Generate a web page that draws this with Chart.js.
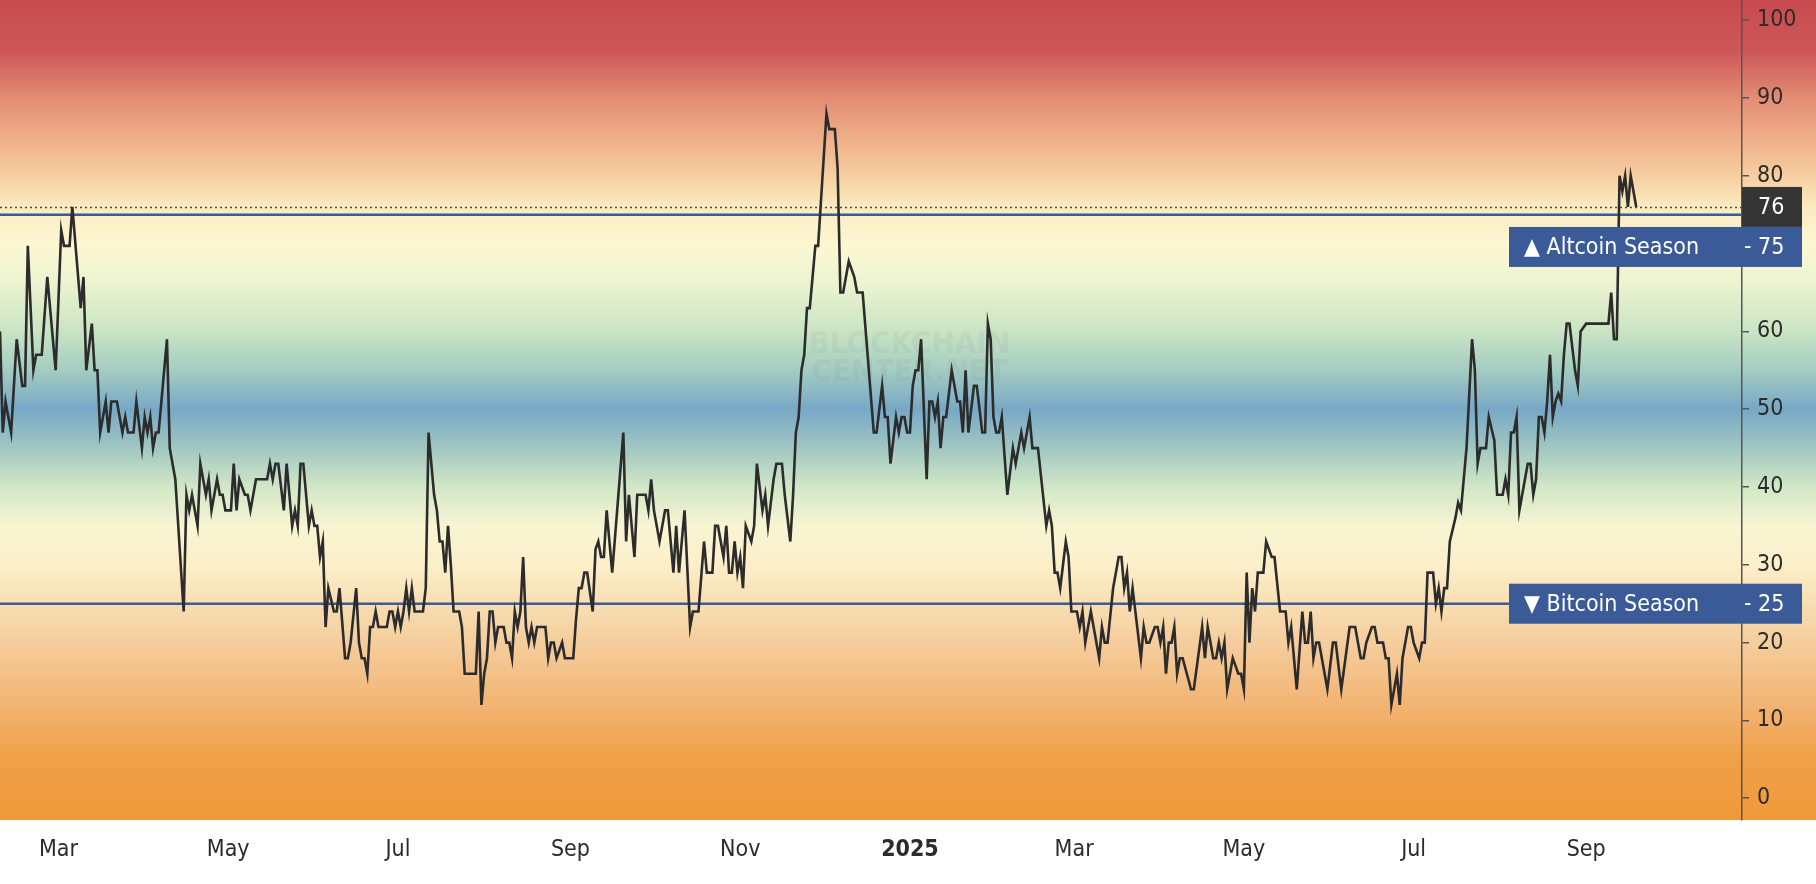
<!DOCTYPE html>
<html>
<head>
<meta charset="utf-8">
<title>Altcoin Season Index</title>
<script src="https://cdn.jsdelivr.net/npm/chart.js@4.4.1/dist/chart.umd.min.js"></script>
<style>
  html, body { margin: 0; padding: 0; background: #fff; }
  #wrap { width: 1816px; height: 884px; position: relative; }
</style>
</head>
<body>
<div id="wrap"><canvas id="chart"></canvas></div>
<script>
// day 0 = 1 Mar 2024, one reading per day (index value 0-100)
const START_DATE = '2024-03-01';

const dayIndex = [
  -21, -20, -19, -18, -17, -15, -13, -12, -11, -9, -8, -6, -4, -1, 1, 2, 4, 5, 8, 9,
  10, 12, 13, 14, 15, 17, 18, 19, 21, 23, 24, 25, 27, 28, 30, 31, 32, 33, 34, 35,
  36, 39, 40, 42, 45, 46, 47, 48, 50, 51, 53, 54, 55, 57, 58, 59, 60, 62, 63, 64,
  65, 67, 68, 69, 71, 75, 76, 77, 78, 79, 81, 82, 84, 85, 86, 87, 88, 90, 91, 92,
  93, 94, 95, 96, 97, 99, 100, 101, 103, 104, 105, 107, 108, 109, 110, 111, 112, 113, 114, 115,
  118, 119, 120, 121, 122, 123, 124, 125, 126, 127, 128, 131, 132, 133, 135, 136, 137, 138, 139, 140,
  141, 142, 144, 145, 146, 150, 151, 152, 153, 154, 155, 156, 157, 158, 160, 161, 162, 163, 164, 165,
  166, 167, 168, 169, 170, 171, 172, 175, 176, 177, 178, 179, 181, 182, 185, 186, 187, 188, 189, 190,
  192, 193, 194, 195, 196, 197, 199, 203, 204, 205, 207, 208, 211, 212, 213, 214, 216, 218, 219, 221,
  222, 223, 225, 227, 228, 230, 232, 233, 235, 236, 237, 239, 240, 241, 242, 243, 244, 245, 246, 247,
  249, 250, 251, 253, 254, 255, 257, 258, 260, 261, 263, 264, 265, 266, 267, 268, 269, 270, 272, 273,
  276, 277, 279, 280, 281, 282, 284, 286, 287, 289, 293, 294, 296, 297, 298, 299, 301, 302, 303, 304,
  305, 306, 307, 308, 309, 310, 312, 313, 314, 315, 316, 317, 318, 319, 321, 322, 323, 324, 325, 326,
  327, 329, 330, 332, 333, 334, 335, 336, 337, 338, 339, 341, 343, 344, 345, 346, 347, 349, 350, 352,
  355, 356, 357, 358, 359, 360, 362, 363, 364, 366, 367, 368, 369, 371, 374, 375, 376, 377, 379, 381,
  382, 383, 384, 385, 386, 389, 390, 391, 392, 394, 395, 396, 397, 398, 399, 400, 401, 402, 403, 404,
  407, 408, 411, 412, 413, 415, 416, 417, 418, 419, 420, 422, 424, 425, 426, 427, 428, 429, 430, 431,
  433, 434, 436, 437, 439, 441, 442, 443, 445, 447, 448, 449, 450, 451, 452, 453, 456, 458, 459, 461,
  464, 466, 468, 469, 470, 472, 473, 474, 476, 477, 478, 479, 481, 482, 483, 485, 486, 487, 489, 490,
  491, 492, 494, 495, 496, 497, 498, 499, 500, 502, 503, 504, 505, 506, 508, 509, 510, 511, 513, 514,
  516, 517, 519, 520, 521, 522, 523, 524, 525, 528, 529, 530, 531, 532, 533, 534, 535, 536, 537, 538,
  539, 540, 541, 542, 543, 545, 546, 547, 549, 557, 558, 559, 560, 561, 562, 563, 564, 565, 567
];

const altcoinIndex = [
  60, 47, 51, 49, 47, 59, 53, 53, 71, 55, 57, 57, 67, 55, 73, 71, 71, 76, 63, 67,
  55, 61, 55, 55, 47, 51, 47, 51, 51, 47, 49, 47, 47, 51, 45, 49, 47, 49, 45, 47,
  47, 59, 45, 41, 24, 39, 37, 39, 35, 43, 39, 41, 37, 41, 39, 39, 37, 37, 43, 37,
  41, 39, 39, 37, 41, 41, 43, 41, 43, 43, 37, 43, 35, 37, 35, 43, 43, 35, 37, 35,
  35, 31, 33, 22, 27, 24, 24, 27, 18, 18, 20, 27, 20, 18, 18, 16, 22, 22, 24, 22,
  22, 24, 24, 22, 24, 22, 24, 27, 24, 27, 24, 24, 27, 47, 39, 37, 33, 33, 29, 35,
  30, 24, 24, 22, 16, 16, 24, 12, 16, 18, 24, 24, 20, 22, 22, 20, 20, 18, 24, 22,
  24, 31, 22, 20, 22, 20, 22, 22, 18, 20, 20, 18, 20, 18, 18, 23, 27, 27, 29, 29,
  24, 32, 33, 31, 31, 37, 29, 47, 33, 39, 31, 39, 39, 37, 41, 37, 33, 37, 37, 29,
  35, 29, 37, 22, 24, 24, 33, 29, 29, 35, 35, 31, 35, 29, 29, 33, 29, 31, 27, 35,
  33, 35, 43, 37, 39, 35, 41, 43, 43, 39, 33, 39, 47, 49, 55, 57, 63, 63, 71, 71,
  88, 86, 86, 81, 65, 65, 69, 67, 65, 65, 47, 47, 53, 49, 49, 43, 49, 47, 49, 49,
  47, 47, 53, 55, 55, 59, 41, 51, 51, 49, 51, 45, 49, 49, 55, 53, 51, 51, 47, 55,
  47, 53, 53, 47, 47, 61, 59, 49, 47, 47, 49, 39, 45, 43, 45, 47, 45, 49, 45, 45,
  35, 37, 35, 29, 29, 27, 33, 31, 24, 24, 22, 24, 20, 24, 18, 22, 20, 20, 27, 31,
  31, 27, 29, 24, 27, 18, 22, 20, 20, 22, 22, 20, 22, 16, 20, 20, 22, 16, 18, 18,
  14, 14, 22, 18, 22, 18, 18, 20, 18, 20, 14, 18, 16, 16, 14, 29, 20, 27, 24, 29,
  29, 33, 31, 31, 24, 24, 20, 22, 14, 24, 20, 20, 24, 18, 20, 20, 14, 20, 20, 14,
  22, 22, 18, 18, 20, 22, 22, 20, 20, 18, 18, 12, 16, 12, 18, 22, 22, 20, 18, 20,
  20, 29, 29, 25, 27, 24, 27, 27, 33, 36, 38, 37, 41, 45, 59, 55, 43, 45, 45, 49,
  46, 39, 39, 41, 39, 47, 47, 49, 37, 43, 43, 39, 41, 49, 49, 47, 51, 57, 49, 51,
  52, 51, 57, 61, 61, 55, 53, 60, 61, 61, 65, 59, 59, 80, 78, 80, 76, 80, 76
];

// x-axis ticks: first day of every second month
const monthTickDays = [0, 61, 122, 184, 245, 306, 365, 426, 487, 549];
const monthTickLabels = ['Mar', 'May', 'Jul', 'Sep', 'Nov', '2025', 'Mar', 'May', 'Jul', 'Sep'];
const valueTicks = [0, 10, 20, 30, 40, 50, 60, 70, 80, 90, 100];

const altcoinSeason = 75;
const bitcoinSeason = 25;
const lastValue = altcoinIndex[altcoinIndex.length - 1];

const FONT = "'DejaVu Sans Condensed', 'DejaVu Sans', sans-serif";
const TEXT_DARK = '#2b2b2b';
const LEVEL_BLUE = '#3a5b98';

// colour band behind the chart (value -> colour)
const bandColours = [
  [102.6, '#c84b4e'], [96, '#cd5757'], [90, '#e38c74'], [84, '#f0b48d'],
  [80, '#f6cea1'], [76, '#faebc0'], [71, '#fdf7d3'], [66, '#ebf3cf'],
  [60, '#c9e4c4'], [55, '#a3ccc1'], [50, '#78a8c6'], [45, '#a1c7c2'],
  [40, '#d1e7c7'], [35, '#f7f5d2'], [30, '#fcefc9'], [25, '#f8deb3'],
  [20, '#f5cd9d'], [12, '#f2b473'], [5, '#f0a048'], [-2.8, '#f0993a']
];

const points = dayIndex.map((d, i) => ({ x: d, y: altcoinIndex[i] }));

const backgroundBands = {
  id: 'backgroundBands',
  beforeDraw(chart) {
    const { ctx, chartArea, scales } = chart;
    const y = scales.y;
    ctx.save();
    ctx.fillStyle = '#ffffff';
    ctx.fillRect(0, 0, chart.width, chart.height);
    const g = ctx.createLinearGradient(0, chartArea.top, 0, chartArea.bottom);
    const h = chartArea.bottom - chartArea.top;
    bandColours.forEach(([v, c]) => {
      const off = (y.getPixelForValue(v) - chartArea.top) / h;
      g.addColorStop(Math.min(1, Math.max(0, off)), c);
    });
    ctx.fillStyle = g;
    ctx.fillRect(0, chartArea.top, chart.width, h);

    // faint watermark
    ctx.fillStyle = 'rgba(110, 110, 110, 0.08)';
    ctx.font = 'bold 31px ' + FONT;
    ctx.textAlign = 'center';
    ctx.textBaseline = 'middle';
    const cx = chartArea.left + (chartArea.right - chartArea.left) * 0.522;
    ctx.fillText('BLOCKCHAIN', cx, y.getPixelForValue(58.3));
    ctx.fillText('CENTER.NET', cx, y.getPixelForValue(54.6));
    ctx.restore();
  },
  beforeDatasetsDraw(chart) {
    const { ctx, chartArea, scales } = chart;
    const y = scales.y;
    ctx.save();
    // dotted line at last value
    ctx.strokeStyle = '#4a4a4a';
    ctx.lineWidth = 1.5;
    ctx.setLineDash([2, 3]);
    const yl = Math.round(y.getPixelForValue(lastValue)) + 0.5;
    ctx.beginPath();
    ctx.moveTo(chartArea.left, yl);
    ctx.lineTo(chartArea.right, yl);
    ctx.stroke();
    // season levels
    ctx.setLineDash([]);
    ctx.strokeStyle = LEVEL_BLUE;
    ctx.lineWidth = 2.5;
    [altcoinSeason, bitcoinSeason].forEach(v => {
      const yy = y.getPixelForValue(v);
      ctx.beginPath();
      ctx.moveTo(chartArea.left, yy);
      ctx.lineTo(chartArea.right, yy);
      ctx.stroke();
    });
    ctx.restore();
  },
  afterDraw(chart) {
    const { ctx, chartArea, scales } = chart;
    const y = scales.y;
    const right = chartArea.right;
    const boxH = 40;
    ctx.save();
    ctx.font = '23px ' + FONT;
    ctx.textBaseline = 'middle';

    // last value tag
    const yLast = y.getPixelForValue(lastValue);
    ctx.fillStyle = '#353535';
    ctx.fillRect(right, yLast - boxH / 2, 60, boxH);
    ctx.fillStyle = '#ffffff';
    ctx.textAlign = 'left';
    ctx.fillText(String(lastValue), right + 16, yLast + 1);

    const tag = (cy, text, level) => {
      ctx.fillStyle = LEVEL_BLUE;
      ctx.fillRect(right - 233, cy - boxH / 2, 293, boxH);
      ctx.fillStyle = '#ffffff';
      ctx.textAlign = 'left';
      ctx.fillText(text, right - 218, cy + 1);
      ctx.fillText('-', right + 2, cy);
      ctx.fillText(String(level), right + 16, cy + 1);
    };
    tag(yLast + boxH, '\u25B2 Altcoin Season', altcoinSeason);
    tag(y.getPixelForValue(bitcoinSeason), '\u25BC Bitcoin Season', bitcoinSeason);
    ctx.restore();
  }
};

new Chart(document.getElementById('chart'), {
  type: 'line',
  data: {
    datasets: [{
      label: 'Altcoin Season Index',
      data: points,
      borderColor: '#2c2c2c',
      borderWidth: 2.6,
      pointRadius: 0,
      tension: 0,
      fill: false
    }]
  },
  options: {
    responsive: true,
    maintainAspectRatio: false,
    animation: false,
    layout: { padding: 0 },
    plugins: {
      legend: { display: false },
      tooltip: { enabled: false }
    },
    scales: {
      x: {
        type: 'linear',
        min: -21,
        max: 605,
        grid: { display: false, drawTicks: false },
        border: { display: false },
        afterBuildTicks: (scale) => {
          scale.ticks = monthTickDays.map(v => ({ value: v }));
        },
        afterFit: (scale) => {
          scale.height = 64;
          scale.paddingLeft = 0;
          scale.paddingRight = 0;
        },
        ticks: {
          autoSkip: false,
          maxRotation: 0,
          padding: 16,
          color: TEXT_DARK,
          font: (c) => ({
            family: FONT,
            size: 23,
            weight: monthTickLabels[c.index] === '2025' ? 'bold' : 'normal'
          }),
          callback: (value, index) => monthTickLabels[index]
        }
      },
      y: {
        position: 'right',
        min: -2.8,
        max: 102.6,
        grid: { drawOnChartArea: false, drawTicks: true, tickLength: 7, color: '#555', lineWidth: 1.5 },
        border: { display: true, color: '#555', width: 1.5 },
        afterBuildTicks: (scale) => {
          scale.ticks = valueTicks.map(v => ({ value: v }));
        },
        afterFit: (scale) => {
          scale.width = 74;
          scale.paddingTop = 0;
          scale.paddingBottom = 0;
        },
        ticks: {
          padding: 8,
          color: TEXT_DARK,
          font: { family: FONT, size: 23 }
        }
      }
    }
  },
  plugins: [backgroundBands]
});
</script>
</body>
</html>
